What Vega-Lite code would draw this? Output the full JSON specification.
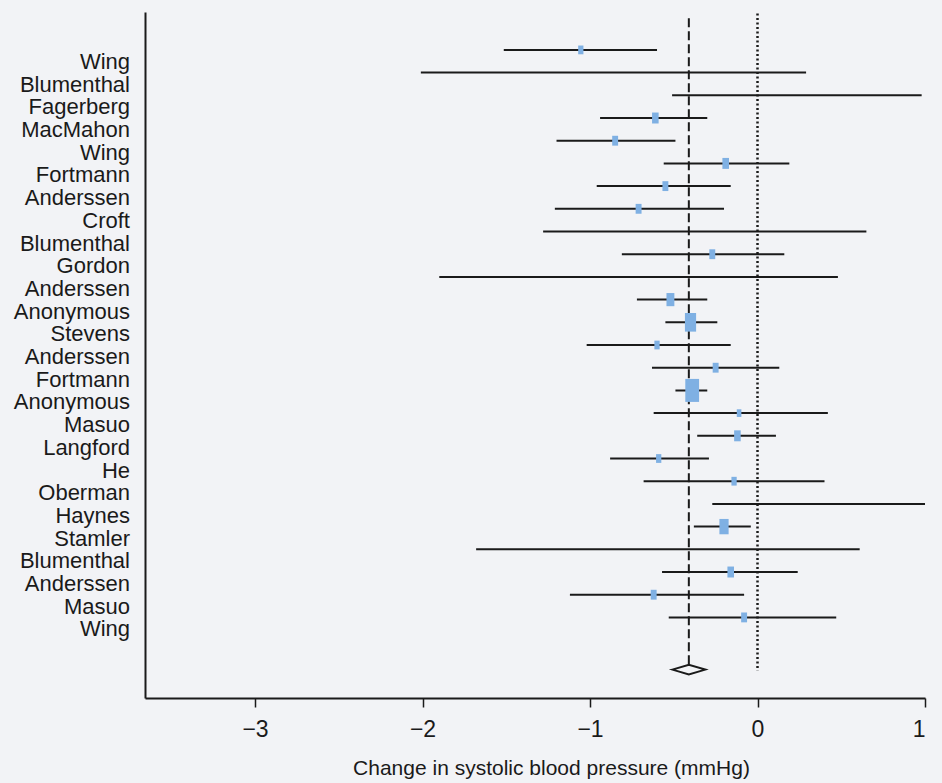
{
  "$schema": "https://vega.github.io/schema/vega-lite/v6.json",
  "width": 780,
  "height": 686,
  "autosize": {"type": "none"},
  "padding": {"left": 145, "top": 12, "right": 17, "bottom": 85},
  "background": "#f2f3f6",
  "config": {"view": {"stroke": null}, "font": "Liberation Sans"},
  "datasets": {
    "studies": [
      {"row": 1, "study": "Wing", "lo": -1.515, "hi": -0.6, "est": -1.055, "w": 0.64},
      {"row": 2, "study": "Blumenthal", "lo": -2.01, "hi": 0.29, "est": -0.86, "w": 0},
      {"row": 3, "study": "Fagerberg", "lo": -0.51, "hi": 0.98, "est": 0.24, "w": 0},
      {"row": 4, "study": "MacMahon", "lo": -0.94, "hi": -0.3, "est": -0.61, "w": 1.0},
      {"row": 5, "study": "Wing", "lo": -1.2, "hi": -0.49, "est": -0.85, "w": 0.81},
      {"row": 6, "study": "Fortmann", "lo": -0.56, "hi": 0.19, "est": -0.19, "w": 1.0},
      {"row": 7, "study": "Anderssen", "lo": -0.96, "hi": -0.16, "est": -0.55, "w": 0.81},
      {"row": 8, "study": "Croft", "lo": -1.21, "hi": -0.2, "est": -0.71, "w": 0.81},
      {"row": 9, "study": "Blumenthal", "lo": -1.28, "hi": 0.65, "est": -0.31, "w": 0},
      {"row": 10, "study": "Gordon", "lo": -0.81, "hi": 0.16, "est": -0.27, "w": 0.81},
      {"row": 11, "study": "Anderssen", "lo": -1.9, "hi": 0.48, "est": -0.71, "w": 0},
      {"row": 12, "study": "Anonymous", "lo": -0.72, "hi": -0.3, "est": -0.52, "w": 1.44},
      {"row": 13, "study": "Stevens", "lo": -0.55, "hi": -0.24, "est": -0.4, "w": 2.89},
      {"row": 14, "study": "Anderssen", "lo": -1.02, "hi": -0.16, "est": -0.6, "w": 0.64},
      {"row": 15, "study": "Fortmann", "lo": -0.63, "hi": 0.13, "est": -0.25, "w": 0.81},
      {"row": 16, "study": "Anonymous", "lo": -0.49, "hi": -0.3, "est": -0.39, "w": 4.41},
      {"row": 17, "study": "Masuo", "lo": -0.62, "hi": 0.42, "est": -0.11, "w": 0.49},
      {"row": 18, "study": "Langford", "lo": -0.36, "hi": 0.11, "est": -0.12, "w": 1.0},
      {"row": 19, "study": "He", "lo": -0.88, "hi": -0.29, "est": -0.59, "w": 0.64},
      {"row": 20, "study": "Oberman", "lo": -0.68, "hi": 0.4, "est": -0.14, "w": 0.64},
      {"row": 21, "study": "Haynes", "lo": -0.27, "hi": 1.0, "est": 0.37, "w": 0},
      {"row": 22, "study": "Stamler", "lo": -0.38, "hi": -0.04, "est": -0.2, "w": 1.96},
      {"row": 23, "study": "Blumenthal", "lo": -1.68, "hi": 0.61, "est": -0.54, "w": 0},
      {"row": 24, "study": "Anderssen", "lo": -0.57, "hi": 0.24, "est": -0.16, "w": 1.0},
      {"row": 25, "study": "Masuo", "lo": -1.12, "hi": -0.08, "est": -0.62, "w": 0.81},
      {"row": 26, "study": "Wing", "lo": -0.53, "hi": 0.47, "est": -0.08, "w": 0.81}
    ],
    "pooled": [{"est": -0.41, "lo": -0.5, "hi": -0.3}]
  },
  "layer": [
    {
      "data": {"name": "studies"},
      "mark": {"type": "rule", "strokeWidth": 2, "color": "#1a1a1a"},
      "encoding": {
        "x": {
          "field": "lo", "type": "quantitative",
          "scale": {"domain": [-3.657, 1], "nice": false, "zero": false},
          "axis": {
            "values": [-3, -2, -1, 0, 1],
            "labelExpr": "datum.value < 0 ? '\u2212' + abs(datum.value) : '' + datum.value",
            "grid": false,
            "domainColor": "#1a1a1a", "domainWidth": 2,
            "tickColor": "#1a1a1a", "tickWidth": 1.5, "tickSize": 9,
            "labelFontSize": 23, "labelColor": "#1a1a1a", "labelPadding": 11,
            "title": "Change in systolic blood pressure (mmHg)",
            "titleFontSize": 21, "titleFontWeight": "normal", "titleColor": "#1a1a1a",
            "titlePadding": 16, "titleX": 406
          }
        },
        "x2": {"field": "hi"},
        "y": {
          "field": "row", "type": "quantitative",
          "scale": {"domain": [-0.67, 29.55], "reverse": true, "nice": false, "zero": false},
          "axis": {"labels": false, "ticks": false, "grid": false, "title": null, "domainColor": "#1a1a1a", "domainWidth": 2}
        }
      }
    },
    {
      "data": {"name": "pooled"},
      "mark": {"type": "rule", "strokeDash": [2, 2.5], "strokeWidth": 2.5, "color": "#1a1a1a"},
      "encoding": {
        "x": {"datum": 0, "type": "quantitative"},
        "y": {"datum": -0.6, "type": "quantitative"},
        "y2": {"datum": 28.35}
      }
    },
    {
      "data": {"name": "pooled"},
      "mark": {"type": "rule", "strokeDash": [9, 4], "strokeWidth": 2, "color": "#1a1a1a"},
      "encoding": {
        "x": {"field": "est", "type": "quantitative"},
        "y": {"datum": -0.4, "type": "quantitative"},
        "y2": {"datum": 28.08}
      }
    },
    {
      "data": {"name": "studies"},
      "transform": [{"filter": "datum.w > 0"}],
      "mark": {"type": "point", "shape": "M-0.6,-1L0.6,-1L0.6,1L-0.6,1Z", "filled": true, "color": "#7fb0e3", "opacity": 1},
      "encoding": {
        "x": {"field": "est", "type": "quantitative"},
        "y": {"field": "row", "type": "quantitative"},
        "size": {"field": "w", "type": "quantitative", "scale": {"domain": [0, 10], "range": [0, 1200], "zero": true}, "legend": null}
      }
    },
    {
      "data": {"name": "studies"},
      "mark": {"type": "text", "align": "right", "baseline": "middle", "fontSize": 22, "color": "#1a1a1a", "dx": -15, "dy": 12},
      "encoding": {
        "x": {"datum": -3.657, "type": "quantitative"},
        "y": {"field": "row", "type": "quantitative"},
        "text": {"field": "study"}
      }
    },
    {
      "data": {"name": "pooled"},
      "mark": {"type": "point", "shape": "M-1,0L0,-0.3L1,0L0,0.3Z", "filled": false, "size": 1089, "strokeWidth": 2, "color": "#1a1a1a", "opacity": 1},
      "encoding": {
        "x": {"field": "est", "type": "quantitative"},
        "y": {"datum": 28.3, "type": "quantitative"}
      }
    }
  ]
}
